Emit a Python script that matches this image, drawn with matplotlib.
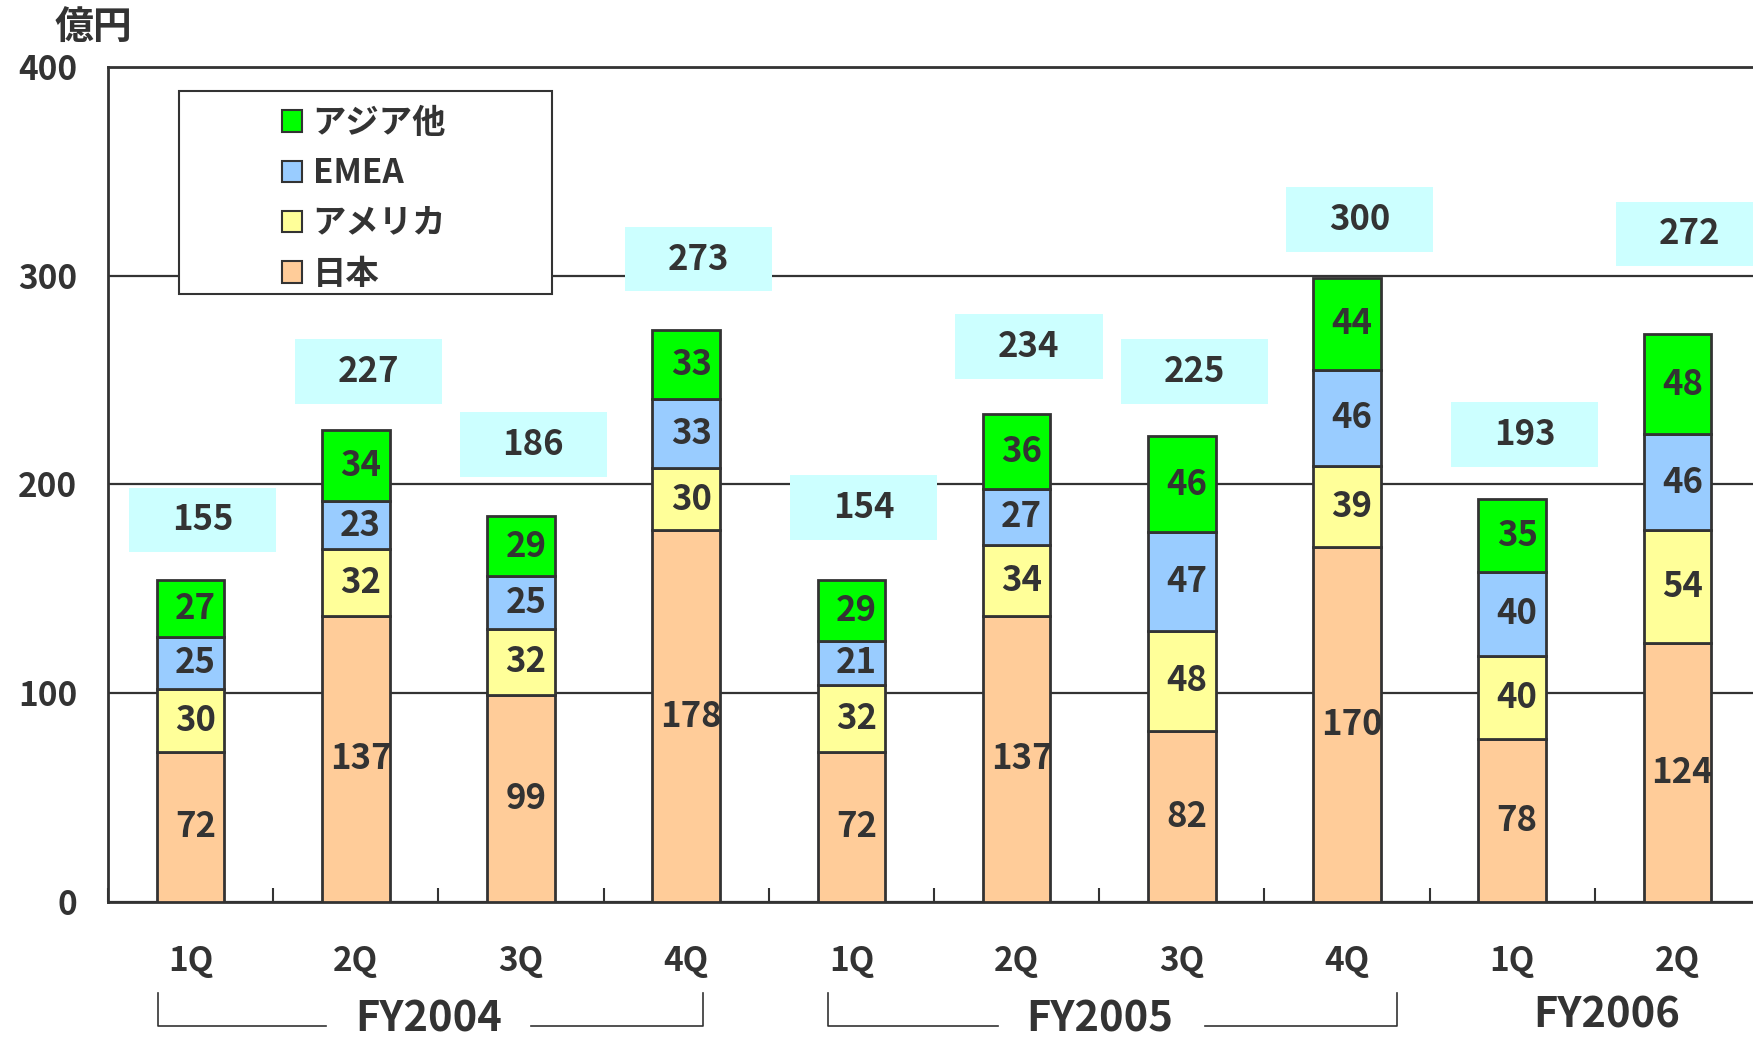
import matplotlib
matplotlib.use("Agg")
import matplotlib.pyplot as plt
from matplotlib.patches import Patch, Rectangle
from matplotlib.transforms import blended_transform_factory
import numpy as np

plt.rcParams['font.family'] = ['Noto Sans CJK JP', 'DejaVu Sans']

# ── Data ────────────────────────────────────────────────────────────────────
quarters = ["1Q", "2Q", "3Q", "4Q", "1Q", "2Q", "3Q", "4Q", "1Q", "2Q"]
japan    = [72, 137, 99, 178, 72, 137, 82, 170, 78, 124]
america  = [30, 32, 32, 30, 32, 34, 48, 39, 40, 54]
emea     = [25, 23, 25, 33, 21, 27, 47, 46, 40, 46]
asia     = [27, 34, 29, 33, 29, 36, 46, 44, 35, 48]
totals   = [155, 227, 186, 273, 154, 234, 225, 300, 193, 272]
years    = ["FY2004", "FY2005", "FY2006"]

series = [("日本", japan, "#FFCC99"),
          ("アメリカ", america, "#FFFF99"),
          ("EMEA", emea, "#99CCFF"),
          ("アジア他", asia, "#00FF00")]

TXT = "#333333"
EDGE = "#333333"
total_off = [29, 28, 34, 34, 35, 32, 31, 28, 31, 48]   # label box lift above bar

fig = plt.figure(figsize=(17.53, 10.42), dpi=100)
ax = fig.add_axes([0.0616, 0.1344, 0.9424, 0.8013])

x = np.arange(len(quarters))
bottom = np.zeros(len(quarters))
for name, vals, col in series:
    vals = np.array(vals)
    ax.bar(x, vals, 0.41, bottom=bottom, color=col, edgecolor=EDGE,
           linewidth=2, zorder=3)
    for xi, b, v in zip(x, bottom, vals):
        ax.text(xi + 0.03, b + v / 2, str(v), ha="center", va="center",
                fontsize=25, fontweight="bold", color=TXT, zorder=4)
    bottom += vals

# total boxes
for xi, top, t, off in zip(x, bottom, totals, total_off):
    yc = top + off
    ax.add_patch(Rectangle((xi - 0.37, yc - 15.5), 0.89, 31,
                           facecolor="#CCFFFF", edgecolor="none", zorder=2))
    ax.text(xi + 0.075, yc, str(t), ha="center", va="center",
            fontsize=25, fontweight="bold", color=TXT, zorder=4)

ax.set_xlim(-0.5, len(quarters) - 0.5)
ax.set_ylim(0, 400)
ax.set_yticks([0, 100, 200, 300, 400])
ax.set_yticklabels(["0", "100", "200", "300", "400"], fontsize=24,
                   fontweight="bold", color=TXT)
ax.tick_params(axis="y", length=0, pad=22)
ax.yaxis.grid(True, color=EDGE, linewidth=1.6, zorder=0)
ax.set_axisbelow(True)

ax.set_xticks(np.arange(len(quarters) + 1) - 0.5)
ax.set_xticklabels([])
ax.tick_params(axis="x", which="major", direction="in", length=10,
               width=1.5, color=EDGE)
ax.set_xticks(x, minor=True)
ax.set_xticklabels(quarters, minor=True, fontsize=24, fontweight="bold",
                   color=TXT)
ax.tick_params(axis="x", which="minor", length=0, pad=31)

for side in ["top", "left", "bottom"]:
    ax.spines[side].set_color(EDGE)
    ax.spines[side].set_linewidth(2)
ax.spines["right"].set_visible(False)

fig.text(0.0535, 0.974, "億円", ha="center", va="center", fontsize=28,
         fontweight="bold", color=TXT)

# year group brackets
tr = blended_transform_factory(ax.transData, fig.transFigure)
y_top, y_low = 0.047, 0.0154
brackets = [(-0.2, 0.82, 2.06, 3.1), (3.86, 4.89, 6.14, 7.3)]
for x0, x1, x2, x3 in brackets:
    ax.plot([x0, x0, x1], [y_top, y_low, y_low], color=EDGE, lw=1.2,
            transform=tr, clip_on=False)
    ax.plot([x2, x3, x3], [y_low, y_low, y_top], color=EDGE, lw=1.2,
            transform=tr, clip_on=False)
for xc, yc, lab in zip([1.44, 5.5, 8.57], [0.022, 0.022, 0.025], years):
    ax.text(xc, yc, lab, ha="center", va="center", fontsize=30,
            fontweight="bold", color=TXT, transform=tr,
            family=["Liberation Sans Narrow", "Noto Sans CJK JP"])

# legend
fig.add_artist(Rectangle((0.1021, 0.7179), 0.2128, 0.1948,
                         transform=fig.transFigure, facecolor="white",
                         edgecolor=EDGE, linewidth=1.5, zorder=10))
handles = [Patch(facecolor=c, edgecolor=EDGE, linewidth=1.5, label=n)
           for n, _, c in series[::-1]]
leg = fig.legend(handles=handles, loc="upper left",
                 bbox_to_anchor=(0.1607, 0.8975), frameon=False,
                 fontsize=24, handlelength=0.6, handleheight=0.6,
                 handletextpad=0.33, labelspacing=0.52, borderpad=0,
                 borderaxespad=0)
leg.set_zorder(11)
for t in leg.get_texts():
    t.set_color(TXT)
    t.set_fontweight("bold")

fig.savefig("out.png", dpi=100, facecolor="white")
